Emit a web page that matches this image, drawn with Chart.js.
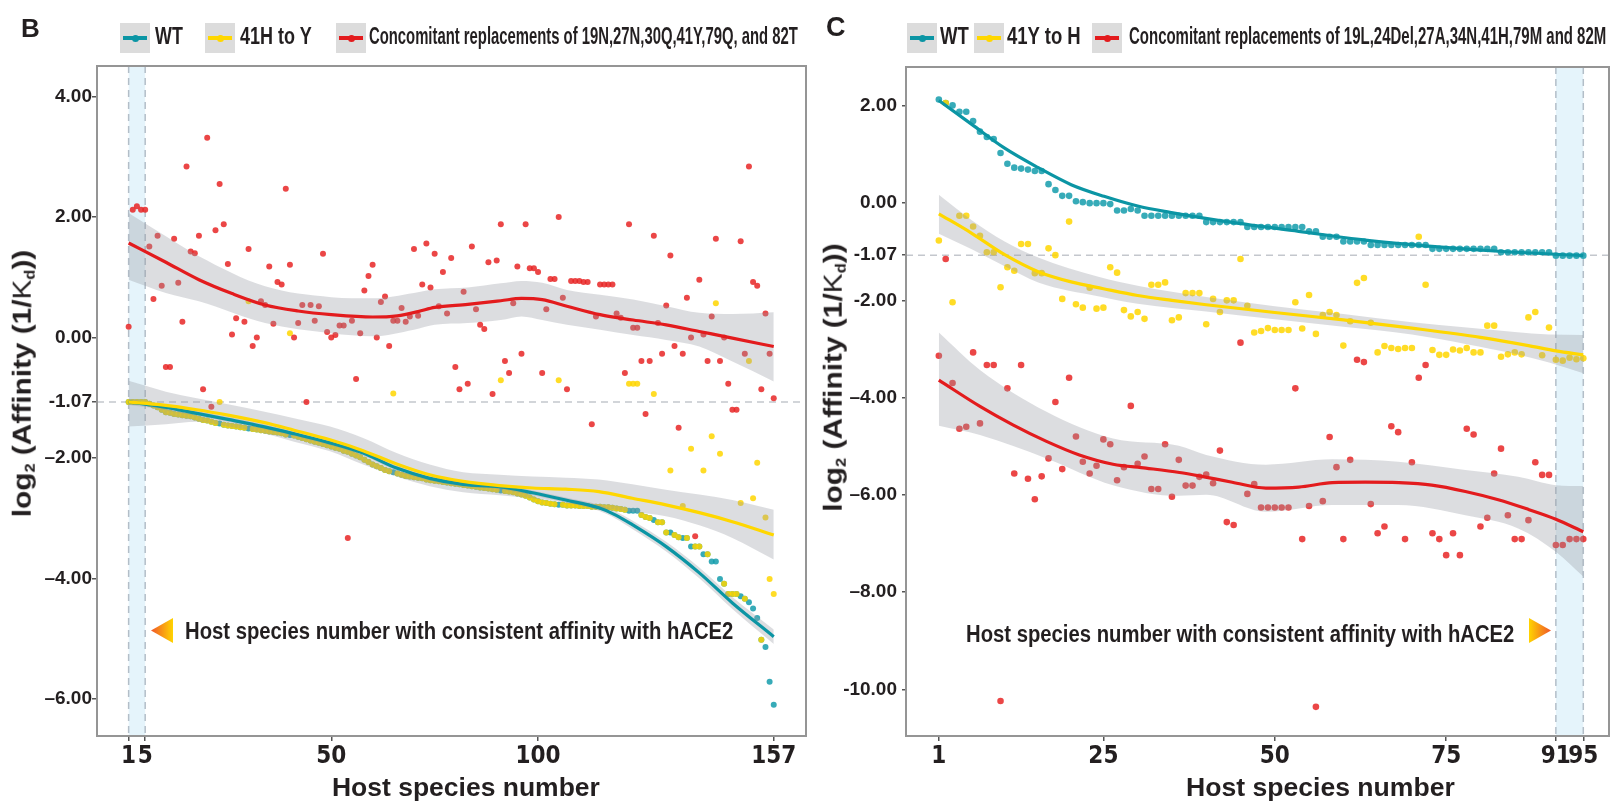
<!DOCTYPE html>
<html><head><meta charset="utf-8">
<script src="https://cdn.jsdelivr.net/npm/chart.js@4.4.1/dist/chart.umd.min.js"></script>
<style>
html,body{margin:0;padding:0;background:#fff}
#wrap{position:relative;width:1613px;height:804px;overflow:hidden;font-family:'Liberation Sans',Arial,Helvetica,sans-serif;color:#231f20}
canvas{position:absolute;top:0}
.txt{position:absolute;white-space:nowrap;font-weight:bold;line-height:1;transform-origin:0 50%}
.txt sub{font-size:0.55em;vertical-align:-0.3em;line-height:0}
.txt .k{font-weight:normal}
.lg{position:absolute;width:30px;height:30px;background:#dcdcdc}
.lg i{position:absolute;left:3px;top:13px;width:24px;height:4px}
.lg b{position:absolute;left:11.5px;top:11.5px;width:7px;height:7px;border-radius:50%}
svg{position:absolute}
</style></head>
<body><div id="wrap">
<canvas id="chartB" width="810" height="804" style="left:0;width:810px;height:804px"></canvas>
<canvas id="chartC" width="803" height="804" style="left:810px;width:803px;height:804px"></canvas>
</div>
<script>
// ---------------- Panel B data (host species 1..157) ----------------
const wtB = [
-1.07,-1.07,-1.07,-1.07,-1.07, -1.10,-1.13,-1.16,-1.20,-1.24,
-1.25,-1.27,-1.28,-1.29,-1.30, -1.31,-1.33,-1.35,-1.37,-1.38,
-1.40,-1.42,-1.43,-1.45,-1.46, -1.47,-1.48,-1.49,-1.50,-1.51,
-1.52,-1.53,-1.54,-1.55,-1.56, -1.57,-1.58,-1.59,-1.61,-1.62,
-1.63,-1.65,-1.67,-1.69,-1.71, -1.73,-1.75,-1.77,-1.79,-1.81,
-1.83,-1.85,-1.88,-1.90,-1.93, -1.96,-1.99,-2.03,-2.07,-2.11,
-2.14,-2.17,-2.20,-2.22,-2.24, -2.26,-2.28,-2.30,-2.31,-2.32,
-2.33,-2.34,-2.36,-2.37,-2.38, -2.39,-2.40,-2.41,-2.42,-2.43,
-2.44,-2.45,-2.46,-2.47,-2.48, -2.49,-2.50,-2.51,-2.52,-2.53,
-2.54,-2.55,-2.56,-2.57,-2.59, -2.61,-2.63,-2.66,-2.69,-2.72,
-2.74,-2.75,-2.76,-2.77,-2.78, -2.78,-2.79,-2.79,-2.79,-2.80,
-2.80,-2.80,-2.81,-2.81,-2.81, -2.82,-2.82,-2.83,-2.84,-2.85,
-2.86,-2.88,-2.88,-2.88,-2.95, -2.98,-3.00,-3.03,-3.07,-3.07,
-3.24,-3.24,-3.28,-3.32,-3.33, -3.33,-3.47,-3.47,-3.47,-3.60,
-3.60,-3.72,-3.72,-4.01,-4.09, -4.26,-4.26,-4.26,-4.30,-4.34,
-4.40,-4.50,-4.66,-5.02,-5.14, -5.72,-6.10];
const mutB = [
-1.07,-1.07,-1.07,-1.07,-1.07, -1.10,-1.13,-1.16,-1.20,-1.24,
-1.25,-1.27,-1.28,-1.29,-1.30, -1.31,-1.33,-1.35,-1.37,-1.38,
-1.40,-1.42,-1.07,-1.45,-1.46, -1.47,-1.48,-1.49,-1.50,0.60,
-1.52,-1.53,-1.54,-1.55,-1.56, -1.57,-1.58,-1.59,-1.61,0.07,
-1.63,-1.65,-1.67,-1.69,-1.71, -1.73,-1.75,-1.77,-1.79,-1.81,
-1.83,-1.85,-1.88,-1.90,-1.93, -1.96,-1.99,-2.03,-2.07,-2.11,
-2.14,-2.17,-2.20,-2.22,-0.93, -2.26,-2.28,-2.30,-2.31,-2.32,
-2.33,-2.34,-2.36,-2.37,-2.38, -2.39,-2.40,-2.41,-2.42,-2.43,
-2.44,-2.45,-2.46,-2.47,-2.48, -2.49,-2.50,-2.51,-2.52,-2.53,
-0.71,-2.55,-2.56,-2.57,-2.59, -2.61,-2.63,-2.66,-2.69,-2.72,
-2.74,-2.75,-2.76,-2.77,-0.71, -2.78,-2.79,-2.79,-2.79,-2.80,
-2.80,-2.80,-2.81,-2.81,-2.81, -2.82,-2.82,-2.83,-2.84,-2.85,
-2.86,-0.77,-0.77,-0.77,-2.95, -2.98,-3.00,-0.94,-3.07,-3.07,
-3.24,-2.21,-3.28,-3.32,-2.80, -3.33,-1.85,-3.47,-3.47,-2.21,
-3.60,-1.64,0.57,-1.93,-4.09, -4.26,-4.26,-4.26,-2.75,-4.34,
-0.39,-2.67,-2.08,-5.02,-2.99, -4.01,-4.26];
const comboB = [
0.18,2.12,2.18,2.12,2.12,1.51,0.64,1.69,0.86,-0.49,
-0.49,1.64,0.91,0.26,2.84,1.43,1.40,1.69,-0.86,3.32,
-1.15,1.78,2.55,1.88,1.22,0.05,0.32,null,0.26,1.47,
-0.14,0.00,0.60,0.54,1.18,0.23,0.92,0.88,2.47,1.21,
0.00,0.24,0.54,-1.07,0.54,0.28,0.52,1.39,0.09,0.00,
0.04,0.20,0.20,-3.33,0.28,-0.69,0.07,0.78,1.02,1.21,
0.00,0.59,0.68,-0.14,0.28,0.28,0.49,0.26,0.35,1.47,
0.36,0.88,1.56,0.83,1.39,0.52,1.09,0.40,1.32,-0.49,
-0.86,0.76,-0.77,1.51,0.47,0.21,0.14,1.25,-0.94,1.28,
1.88,-0.39,-0.59,0.57,1.18,-0.27,1.88,1.15,1.15,1.09,
-0.59,0.47,0.97,0.97,2.00,0.66,-0.86,0.94,0.94,0.94,
0.92,0.92,-1.44,0.35,0.88,0.88,0.88,0.88,0.40,0.33,
-0.59,1.88,0.16,0.16,-0.39,-1.27,-0.39,1.69,0.24,-0.27,
0.53,1.36,-0.14,-1.50,-0.27,0.66,0.00,-3.30,0.96,0.05,
-0.39,0.35,1.64,-0.39,0.00,-0.77,-1.20,-1.20,1.60,-0.27,
2.84,0.92,0.86,-0.86,0.40,-0.27,-1.01];
// fitted curves
const wtFitBx = [1,9,17.5,25,33.6,41,49.7,57.7,65.8,73.8,81.9,90.7,98.7,106.7,114.7,118.8,122.8,130.9,139,147,157];
const wtFitBy = [-1.07,-1.15,-1.26,-1.36,-1.48,-1.60,-1.75,-1.92,-2.17,-2.34,-2.44,-2.48,-2.58,-2.70,-2.83,-2.95,-3.11,-3.47,-3.91,-4.41,-4.97];
const wtBandBup = [-1.02,-1.11,-1.22,-1.32,-1.44,-1.56,-1.71,-1.88,-2.13,-2.30,-2.40,-2.44,-2.54,-2.66,-2.78,-2.89,-3.04,-3.39,-3.82,-4.31,-4.85];
const wtBandBlo = [-1.12,-1.19,-1.30,-1.40,-1.52,-1.64,-1.79,-1.96,-2.21,-2.38,-2.48,-2.52,-2.62,-2.74,-2.88,-3.01,-3.18,-3.55,-4.00,-4.51,-5.09];
const mutFitBx = [1,9,17.5,25,33.6,41,49.7,57.7,65.8,73.8,81.9,90.7,98.7,106.7,114.7,122.8,130.9,139,147,157];
const mutFitBy = [-1.07,-1.12,-1.20,-1.29,-1.41,-1.54,-1.70,-1.88,-2.10,-2.28,-2.39,-2.46,-2.50,-2.52,-2.56,-2.67,-2.78,-2.91,-3.06,-3.28];
const mutBandBx = [1,10,17.5,25,33.6,41,49.7,57.7,65.8,73.8,81.9,90.7,98.7,106.7,114.7,122.8,130.9,139,147,157];
const mutBandBup = [-0.72,-0.90,-1.01,-1.11,-1.23,-1.34,-1.48,-1.67,-1.92,-2.11,-2.24,-2.28,-2.31,-2.33,-2.36,-2.44,-2.53,-2.61,-2.70,-2.86];
const mutBandBlo = [-1.48,-1.44,-1.40,-1.48,-1.59,-1.73,-1.89,-2.11,-2.31,-2.47,-2.57,-2.62,-2.67,-2.74,-2.82,-2.90,-2.97,-3.12,-3.33,-3.69];
const comboFitBx = [1,10,18,26,34,42,50,60,66,71,75,83,91,96,101,107,115,123,131,139,147,157];
const comboFitBy = [1.57,1.25,0.96,0.73,0.54,0.44,0.38,0.34,0.36,0.43,0.50,0.55,0.61,0.65,0.63,0.52,0.38,0.29,0.21,0.10,-0.01,-0.15];
const comboBandBx = [1,10,18,34,50,60,70,75,83,91,96,101,107,115,123,131,139,147,157];
const comboBandBup = [2.07,1.68,1.35,0.85,0.67,0.65,0.74,0.80,0.83,0.90,0.94,0.91,0.79,0.71,0.63,0.52,0.41,0.39,0.42];
const comboBandBlo = [0.96,0.74,0.60,0.24,0.07,0.02,0.13,0.21,0.24,0.29,0.35,0.29,0.21,0.13,0.04,-0.04,-0.15,-0.40,-0.73];
const xTicksB = [1,5,50,100,157];
const xLabelsB = ['1','5','50','100','157'];
const yTicksB = [4,2,0,-1.07,-2,-4,-6];
const yLabelsB = ['4.00','2.00','0.00','-1.07','\u20132.00','\u20134.00','\u20136.00'];

// ---------------- Panel C data (host species 1..95) ----------------
const wtC = [
2.13,2.06,2.01,1.88,1.88,1.69,1.47,1.36,1.32,1.03,
0.81,0.73,0.71,0.69,0.66,0.66,0.39,0.27,0.15,0.15,
0.04,0.02,0.00,0.00,0.00,-0.02,-0.15,-0.15,-0.12,-0.15,
-0.26,-0.26,-0.26,-0.26,-0.26,-0.26,-0.26,-0.26,-0.26,-0.39,
-0.39,-0.39,-0.39,-0.39,-0.39,-0.49,-0.49,-0.49,-0.49,-0.49,
-0.49,-0.49,-0.49,-0.49,-0.58,-0.58,-0.69,-0.69,-0.69,-0.79,
-0.79,-0.79,-0.79,-0.86,-0.86,-0.86,-0.86,-0.86,-0.86,-0.86,
-0.86,-0.86,-0.94,-0.94,-0.94,-0.94,-0.94,-0.94,-0.94,-0.94,
-0.94,-0.94,-1.01,-1.01,-1.01,-1.01,-1.01,-1.01,-1.01,-1.01,
-1.08,-1.08,-1.08,-1.08,-1.08];
const mutC = [
-0.77,2.06,-2.04,-0.26,-0.26,-0.48,-0.67,-1.01,-1.01,-1.73,
-1.32,-1.39,-0.84,-0.84,-1.44,-1.44,-0.93,-1.07,-1.97,-0.38,
-2.08,-2.15,-1.74,-2.17,-2.15,-1.32,-1.43,-2.20,-2.33,-2.24,
-2.38,-1.68,-1.68,-1.63,-2.41,-2.35,-1.85,-1.85,-1.85,-2.49,
-1.97,-2.24,-2.00,-2.00,-1.15,-2.11,-2.66,-2.63,-2.57,-2.61,
-2.61,-2.61,-2.04,-2.58,-1.89,-2.69,-2.30,-2.24,-2.30,-2.93,
-2.43,-1.64,-1.54,-2.46,-3.07,-2.94,-2.98,-3.00,-2.98,-2.98,
-0.69,-1.68,-3.02,-3.12,-3.12,-3.01,-3.03,-2.98,-3.07,-3.07,
-2.52,-2.52,-3.16,-3.11,-3.07,-3.11,-2.35,-2.24,-3.13,-2.56,
-3.22,-3.24,-3.18,-3.21,-3.19];
const comboC = [
-3.14,-1.15,-3.70,-4.64,-4.60,-3.07,-4.53,-3.33,-3.33,-10.24,
-3.81,-5.56,-3.33,-5.67,-6.09,-5.62,-5.25,-4.09,-5.47,-3.59,
-4.80,-5.32,-5.56,-5.40,-4.86,-4.96,-5.70,-5.43,-4.17,-5.36,
-5.21,-5.88,-5.88,-4.96,-6.04,-5.28,-5.81,-5.81,-5.63,-5.58,
-5.76,-5.09,-6.56,-6.62,-2.87,-5.98,-5.78,-6.26,-6.26,-6.26,
-6.26,-6.26,-3.81,-6.91,-6.23,-10.36,-6.13,-4.81,-5.43,-6.91,
-5.28,-3.22,-3.27,-6.19,-6.79,-6.65,-4.59,-4.71,-6.91,-5.33,
-3.59,-3.33,-6.79,-6.91,-7.24,-6.79,-7.24,-4.64,-4.76,-6.65,
-6.47,-5.56,-5.05,-6.42,-6.91,-6.91,-6.52,-5.33,-5.59,-5.59,
-7.03,-7.03,-6.91,-6.91,-6.91];
const wtFitCx = [1,5.8,10.6,15.5,20.3,25.1,30,34.7,42,53.5,63.2,72.9,82.6,95];
const wtFitCy = [2.11,1.62,1.13,0.73,0.38,0.14,-0.06,-0.19,-0.36,-0.58,-0.76,-0.89,-0.99,-1.08];
const mutFitCx = [1,5.8,10.6,15.5,20.3,25,30,35,40,50,60,70,80,87,91,95];
const mutFitCy = [-0.22,-0.62,-1.06,-1.41,-1.62,-1.76,-1.90,-2.00,-2.09,-2.25,-2.40,-2.57,-2.76,-2.93,-3.04,-3.12];
const mutBandCx = [1,5.8,10.6,15.5,24.4,30,40,50,60,70,78,85,90,95];
const mutBandCup = [0.17,-0.35,-0.79,-1.12,-1.52,-1.70,-1.93,-2.12,-2.28,-2.45,-2.56,-2.65,-2.70,-2.71];
const mutBandClo = [-0.63,-0.95,-1.30,-1.63,-1.92,-2.07,-2.23,-2.39,-2.54,-2.70,-2.90,-3.10,-3.28,-3.50];
const comboFitCx = [1,7,11.8,16.7,21.5,26.4,31.2,36.1,39.7,43.8,48.7,53.5,58.4,63.2,68.1,72.9,77.8,82.6,87,91,95];
const comboFitCy = [-3.64,-4.18,-4.56,-4.90,-5.18,-5.37,-5.45,-5.54,-5.63,-5.74,-5.86,-5.84,-5.75,-5.74,-5.75,-5.80,-5.93,-6.10,-6.30,-6.50,-6.76];
const comboBandCx = [1,7,16.7,26.4,36,40,48.7,58.4,68,77.8,85.5,91,95];
const comboBandCup = [-2.66,-3.43,-4.29,-4.84,-4.99,-5.18,-5.38,-5.27,-5.32,-5.49,-5.63,-5.80,-5.82];
const comboBandClo = [-4.58,-4.77,-5.25,-5.80,-6.02,-6.00,-6.35,-6.21,-6.21,-6.42,-6.69,-7.17,-7.68];
const xTicksC = [1,25,50,75,91,95];
const xLabelsC = ['1','25','50','75','91','95'];
const yTicksC = [2,0,-1.07,-2,-4,-6,-8,-10];
const yLabelsC = ['2.00','0.00','-1.07','-2.00','\u20134.00','\u20136.00','\u20138.00','-10.00'];

// ---------------- styling ----------------
const COL = {
  tealPt:'rgba(20,156,172,0.85)', yelPt:'rgba(255,214,0,0.85)', redPt:'rgba(231,38,38,0.85)',
  teal:'#0b95a4', yel:'#ffd700', red:'#e31b1d', band:'rgba(150,152,160,0.33)'
};
const TICKX_FONT = "'Liberation Sans Narrow','DejaVu Sans Condensed','Arial Narrow','Liberation Sans',sans-serif";
const TICKY_FONT = "'Liberation Sans',Arial,sans-serif";

const seq = ys => ys.map((y,i)=>({x:i+1,y})).filter(p=>p.y!==null);
const pairs = (xs,ys) => xs.map((x,i)=>({x,y:ys[i]}));

const decoPlugin = {
  id:'deco',
  beforeDatasetsDraw(chart, args, o){
    const {ctx, chartArea:a, scales:{x,y}} = chart;
    ctx.save();
    const x0 = x.getPixelForValue(o.rect[0]), x1 = x.getPixelForValue(o.rect[1]);
    ctx.fillStyle = 'rgba(135,206,235,0.22)';
    ctx.fillRect(x0, a.top, x1-x0, a.bottom-a.top);
    ctx.setLineDash([7,5]); ctx.lineWidth = 1.5; ctx.strokeStyle = '#b3bec8';
    [x0,x1].forEach(px=>{ctx.beginPath();ctx.moveTo(px,a.top);ctx.lineTo(px,a.bottom);ctx.stroke();});
    const hy = y.getPixelForValue(o.hline);
    ctx.strokeStyle = '#c4c7cd';
    ctx.beginPath();ctx.moveTo(a.left,hy);ctx.lineTo(a.right,hy);ctx.stroke();
    ctx.restore();
  },
  afterDraw(chart){
    const {ctx, chartArea:a} = chart;
    ctx.save(); ctx.strokeStyle = '#959595'; ctx.lineWidth = 2;
    ctx.strokeRect(a.left, a.top, a.right-a.left, a.bottom-a.top);
    ctx.restore();
  }
};

function makeChart(id, d){
  const ds = [];
  ds.push({type:'scatter', data:seq(d.wt), backgroundColor:COL.tealPt, pointRadius:d.r, pointBorderWidth:0, order:60});
  ds.push({type:'scatter', data:seq(d.mut), backgroundColor:COL.yelPt, pointRadius:d.r, pointBorderWidth:0, order:50});
  ds.push({type:'scatter', data:seq(d.combo), backgroundColor:COL.redPt, pointRadius:d.r, pointBorderWidth:0, order:40});
  d.bands.forEach(b=>{
    ds.push({type:'line', data:pairs(b.x,b.up), borderWidth:0, pointRadius:0, fill:false, cubicInterpolationMode:'monotone', order:30});
    ds.push({type:'line', data:pairs(b.x,b.lo), borderWidth:0, pointRadius:0, fill:'-1', backgroundColor:COL.band, cubicInterpolationMode:'monotone', order:30});
  });
  d.fits.forEach((f,i)=>{
    ds.push({type:'line', data:pairs(f.x,f.y), borderColor:f.c, borderWidth:3.2, pointRadius:0, fill:false, cubicInterpolationMode:'monotone', order:20-i});
  });
  return new Chart(document.getElementById(id), {
    type:'scatter',
    data:{datasets:ds},
    options:{
      responsive:false, animation:false, devicePixelRatio:1, events:[],
      layout:{padding:{top:d.top,right:d.right,left:0,bottom:0}},
      plugins:{legend:{display:false}, tooltip:{enabled:false}, deco:{rect:d.rect, hline:-1.07}},
      scales:{
        x:{type:'linear', min:d.xmin, max:d.xmax,
          afterBuildTicks:s=>{s.ticks=d.xTicks.map(v=>({value:v}));},
          afterFit:s=>{s.height=68;},
          ticks:{autoSkip:false, maxRotation:0, minRotation:0, padding:1, color:'#231f20',
            font:{family:TICKX_FONT, size:24, weight:'bold'}, callback:(v,i)=>d.xLabels[i]},
          grid:{drawOnChartArea:false, drawTicks:true, tickLength:5, color:'#555', lineWidth:1.5},
          border:{display:false}},
        y:{type:'linear', min:d.ymin, max:d.ymax,
          afterBuildTicks:s=>{s.ticks=d.yTicks.map(v=>({value:v}));},
          afterFit:s=>{s.width=d.yw;},
          ticks:{autoSkip:false, padding:d.ypad, color:'#231f20',
            font:{family:TICKY_FONT, size:19, weight:'bold'}, callback:(v,i)=>d.yLabels[i]},
          grid:{drawOnChartArea:false, drawTicks:true, tickLength:d.ytl, color:'#555', lineWidth:1.5},
          border:{display:false}}
      }
    },
    plugins:[decoPlugin]
  });
}

makeChart('chartB', {
  wt:wtB, mut:mutB, combo:comboB, r:3,
  bands:[{x:wtFitBx,up:wtBandBup,lo:wtBandBlo},{x:mutBandBx,up:mutBandBup,lo:mutBandBlo},{x:comboBandBx,up:comboBandBup,lo:comboBandBlo}],
  fits:[{x:wtFitBx,y:wtFitBy,c:COL.teal},{x:mutFitBx,y:mutFitBy,c:COL.yel},{x:comboFitBx,y:comboFitBy,c:COL.red}],
  xmin:-6.65, xmax:164.8, ymin:-6.62, ymax:4.51, top:66, right:3, yw:97, ypad:0, ytl:5,
  xTicks:xTicksB, xLabels:xLabelsB, yTicks:yTicksB, yLabels:yLabelsB, rect:[1,5]
});
makeChart('chartC', {
  wt:wtC, mut:mutC, combo:comboC, r:3.3,
  bands:[{x:mutBandCx,up:mutBandCup,lo:mutBandClo},{x:comboBandCx,up:comboBandCup,lo:comboBandClo}],
  fits:[{x:wtFitCx,y:wtFitCy,c:COL.teal},{x:mutFitCx,y:mutFitCy,c:COL.yel},{x:comboFitCx,y:comboFitCy,c:COL.red}],
  xmin:-3.79, xmax:98.75, ymin:-10.96, ymax:2.80, top:67, right:2, yw:96, ypad:5, ytl:4,
  xTicks:xTicksC, xLabels:xLabelsC, yTicks:yTicksC, yLabels:yLabelsC, rect:[91,95]
});

// ---------------- text & legend (HTML) ----------------
const wrap = document.getElementById('wrap');
function addText(html, o){
  const el = document.createElement('div');
  el.className = 'txt';
  el.style.fontSize = o.size + 'px';
  el.innerHTML = html;
  wrap.appendChild(el);
  const w = el.offsetWidth, h = el.offsetHeight;
  const s = o.width ? o.width / w : 1;
  if (o.rotate){
    el.style.left = (o.cx - w/2) + 'px';
    el.style.top = (o.cy - h/2) + 'px';
    el.style.transformOrigin = '50% 50%';
    el.style.transform = 'rotate(-90deg) scaleX(' + s + ')';
  } else {
    const left = (o.left !== undefined) ? o.left : o.cx - w*s/2;
    el.style.left = left + 'px';
    el.style.top = (o.cy - h/2) + 'px';
    el.style.transform = 'scaleX(' + s + ')';
  }
}
function addLegendBox(left, color){
  const b = document.createElement('div');
  b.className = 'lg'; b.style.left = left + 'px'; b.style.top = '23px';
  b.innerHTML = '<i style="background:' + color + '"></i><b style="background:' + color + '"></b>';
  wrap.appendChild(b);
}
function addArrow(left, dir){
  const id = 'g' + left;
  const pts = dir === 'left' ? '0,12.5 22,0 22,25' : '22,12.5 0,0 0,25';
  const stops = dir === 'left'
    ? '<stop offset="0" stop-color="#f0562a"/><stop offset="1" stop-color="#ffd400"/>'
    : '<stop offset="0" stop-color="#ffd400"/><stop offset="1" stop-color="#f0562a"/>';
  const s = document.createElementNS('http://www.w3.org/2000/svg','svg');
  s.setAttribute('width','22'); s.setAttribute('height','25');
  s.style.left = left + 'px'; s.style.top = '618px';
  s.innerHTML = '<defs><linearGradient id="' + id + '" x1="0" y1="0" x2="1" y2="0">' + stops + '</linearGradient></defs><polygon points="' + pts + '" fill="url(#' + id + ')"/>';
  wrap.appendChild(s);
}

// panel letters
addText('B', {left:21, cy:27.5, size:26});
addText('C', {left:826, cy:27.5, size:27});
// legends B
addLegendBox(120, COL.teal); addText('WT', {left:155, cy:36.5, size:23, width:28});
addLegendBox(205, '#ffd700'); addText('41H to Y', {left:240, cy:36.5, size:23, width:72});
addLegendBox(336, COL.red); addText('Concomitant replacements of 19N,27N,30Q,41Y,79Q, and 82T', {left:369, cy:36.5, size:23, width:429});
// legends C
addLegendBox(907, COL.teal); addText('WT', {left:940, cy:36.5, size:23, width:29});
addLegendBox(974, '#ffd700'); addText('41Y to H', {left:1007, cy:36.5, size:23, width:74});
addLegendBox(1092, COL.red); addText('Concomitant replacements of 19L,24Del,27A,34N,41H,79M and 82M', {left:1129, cy:36.5, size:23, width:477});
// annotations
addArrow(151, 'left');
addText('Host species number with consistent affinity with hACE2', {left:185, cy:631, size:23, width:548});
addArrow(1529, 'right');
addText('Host species number with consistent affinity with hACE2', {left:966, cy:634, size:23, width:548});
// axis titles
addText('Host species number', {cx:466, cy:787, size:25, width:268});
addText('Host species number', {cx:1320, cy:787, size:25, width:269});
const yTitle = 'log<sub>2</sub> (Affinity (1/<span class="k">K</span><sub>d</sub>))';
addText(yTitle, {cx:22, cy:383, size:25, width:267, rotate:true});
addText(yTitle, {cx:833, cy:377, size:25, width:268, rotate:true});
</script></body></html>
